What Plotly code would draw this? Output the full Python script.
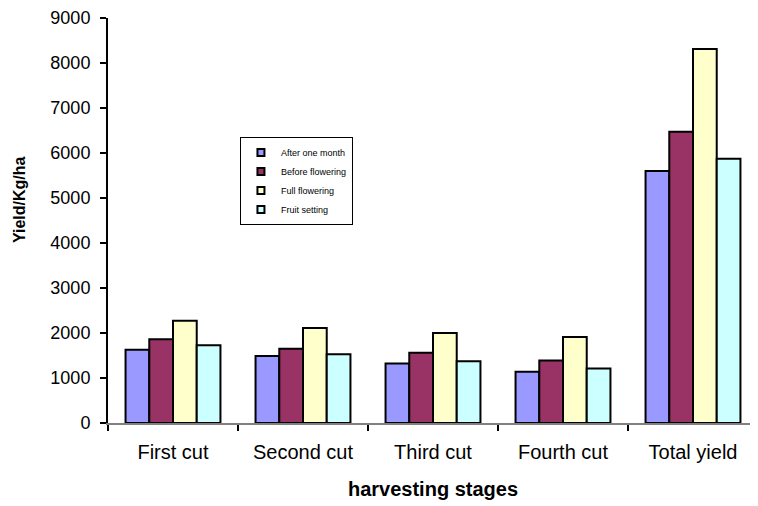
import plotly.graph_objects as go

categories = ["First cut", "Second cut", "Third cut", "Fourth cut", "Total yield"]
series_names = ["After one month", "Before flowering", "Full flowering", "Fruit setting"]
after_one_month = [1630, 1490, 1320, 1140, 5600]
before_flowering = [1860, 1650, 1560, 1390, 6470]
full_flowering = [2270, 2110, 2000, 1910, 8310]
fruit_setting = [1730, 1530, 1370, 1210, 5870]
colors = ["#9999FF", "#993366", "#FFFFCC", "#CCFFFF"]
y_ticks = [0, 1000, 2000, 3000, 4000, 5000, 6000, 7000, 8000, 9000]

series_values = [after_one_month, before_flowering, full_flowering, fruit_setting]

fig = go.Figure()
for name, vals, col in zip(series_names, series_values, colors):
    fig.add_trace(go.Bar(
        x=categories, y=vals, name=name, showlegend=False,
        marker=dict(color=col, line=dict(color="black", width=2)),
    ))
for name, col in zip(series_names, colors):
    fig.add_trace(go.Scatter(
        x=[None], y=[None], mode="markers", name=name,
        marker=dict(symbol="square", size=7, color=col, line=dict(color="black", width=2)),
    ))

font_family = "Liberation Sans, Arial, sans-serif"
fig.update_layout(
    width=750, height=498,
    margin=dict(l=100, r=0, t=10, b=83, autoexpand=False),
    paper_bgcolor="white", plot_bgcolor="white",
    barmode="group", bargap=0.27, bargroupgap=0,
    font=dict(family=font_family, color="black"),
    legend=dict(
        x=0.203, y=0.706, xanchor="left", yanchor="top",
        bordercolor="black", borderwidth=1, bgcolor="white",
        font=dict(size=9, family=font_family), itemwidth=30,
        tracegroupgap=0,
    ),
    xaxis=dict(
        automargin=False,
        showline=True, linecolor="#808080", linewidth=2,
        ticks="outside", tickson="boundaries", ticklen=6, tickwidth=2, tickcolor="black",
        tickfont=dict(size=20), ticklabelstandoff=10, showgrid=False,
        title=dict(text="<b>harvesting stages</b>", font=dict(size=20), standoff=20),
    ),
    yaxis=dict(
        automargin=False,
        range=[0, 9000], tickvals=y_ticks,
        showline=True, linecolor="black", linewidth=2,
        ticks="outside", ticklen=6, tickwidth=2, tickcolor="black",
        tickfont=dict(size=18), ticklabelstandoff=6, showgrid=False, zeroline=False,
    ),
    annotations=[dict(
        text="<b>Yield/Kg/ha</b>", textangle=-90,
        xref="paper", yref="paper", x=-0.135, y=0.551,
        xanchor="center", yanchor="middle", showarrow=False,
        font=dict(size=16),
    )],
)

fig.write_html("out.html")
